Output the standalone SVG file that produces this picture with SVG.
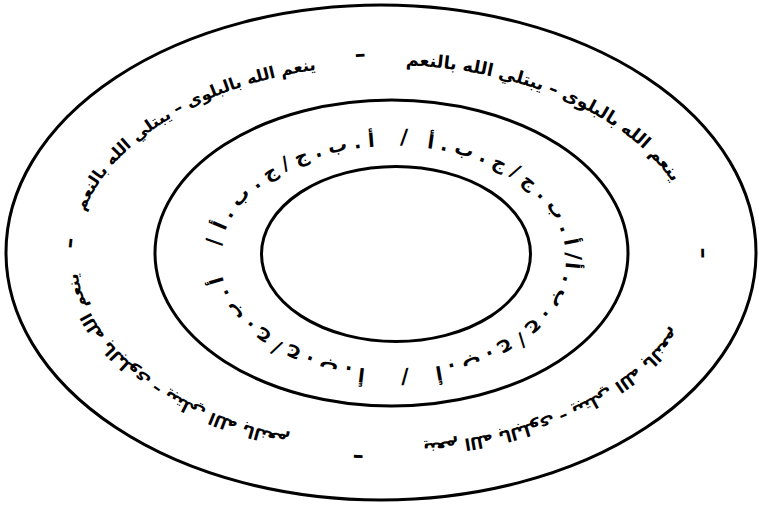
<svg xmlns="http://www.w3.org/2000/svg" width="759" height="506" viewBox="0 0 759 506">
<style>
.ring{fill:none;stroke:#000;stroke-width:3}
.ar{font-family:"DejaVu Sans",sans-serif;font-weight:bold;fill:#000}
.outer{font-size:16.5px}
.mid{font-size:19px}
.sym{font-family:"DejaVu Sans",sans-serif;font-weight:bold;text-anchor:middle;dominant-baseline:central;fill:#000}
.dash{font-size:22px}
.sep{font-size:21px}
</style>
<defs>
<path id="oTL" d="M77.2,271.6 A310,190 0 0 1 413.0,65.7"/>
<path id="oTR" d="M316.3,69.9 A310,190 0 0 1 695.6,245.1"/>
<path id="oBR" d="M696.0,258.3 A310,190 0 0 1 326.8,441.5"/>
<path id="oBL" d="M380.6,445.0 A310,190 0 0 1 81.7,218.7"/>
<path id="mTL" d="M220.2,253.1 A173,112 0 0 1 430.4,148.7"/>
<path id="mTR" d="M373.1,146.7 A173,112 0 0 1 565.7,264.6"/>
<path id="mBR" d="M564.9,245.3 A173,112 0 0 1 382.4,369.8"/>
<path id="mBL" d="M420.1,368.6 A173,112 0 0 1 220.0,256.0"/>
</defs>
<rect width="759" height="506" fill="#fff"/>
<g id="rings">
<ellipse id="outer-ring" class="ring" cx="381" cy="252.5" rx="375" ry="247.5"/>
<ellipse id="middle-ring" class="ring" cx="391.5" cy="253" rx="236.5" ry="153"/>
<ellipse id="inner-ring" class="ring" cx="396" cy="254" rx="134.5" ry="87.5"/>
</g>
<g id="outer-text" class="ar outer">
<text><textPath href="#oTL" startOffset="203" text-anchor="middle">ينعم الله بالبلوى – يبتلي الله بالنعم</textPath></text>
<text style="font-size:17.5px"><textPath href="#oTR" startOffset="240" text-anchor="middle">ينعم الله بالبلوى – يبتلي الله بالنعم</textPath></text>
<text><textPath href="#oBR" startOffset="216" text-anchor="middle">ينعم الله بالبلوى – يبتلي الله بالنعم</textPath></text>
<text><textPath href="#oBL" startOffset="233" text-anchor="middle">ينعم الله بالبلوى – يبتلي الله بالنعم</textPath></text>
</g>
<g id="outer-dashes" class="sym dash">
<text transform="translate(360,54) rotate(-3)">–</text>
<text transform="translate(704,253) rotate(89)">–</text>
<text transform="translate(358,458) rotate(183)">–</text>
<text transform="translate(69,243) rotate(-84)">–</text>
</g>
<g id="middle-text" class="ar mid">
<text><textPath href="#mTL" startOffset="112.8" text-anchor="middle">أ . ب . ج / ج . ب . أ</textPath></text>
<text><textPath href="#mTR" startOffset="144.2" text-anchor="middle">أ . ب . ج / ج . ب . أ</textPath></text>
<text><textPath href="#mBR" startOffset="107" text-anchor="middle">أ . ب . ج / ج . ب . أ</textPath></text>
<text><textPath href="#mBL" startOffset="145.1" text-anchor="middle">أ . ب . ج / ج . ب . أ</textPath></text>
</g>
<g id="middle-separators" class="sym sep">
<text transform="translate(404,137) rotate(2)">/</text>
<text transform="translate(573,256) rotate(90)">/</text>
<text transform="translate(405,377) rotate(178)">/</text>
<text transform="translate(214,242) rotate(-88)">/</text>
</g>
</svg>
